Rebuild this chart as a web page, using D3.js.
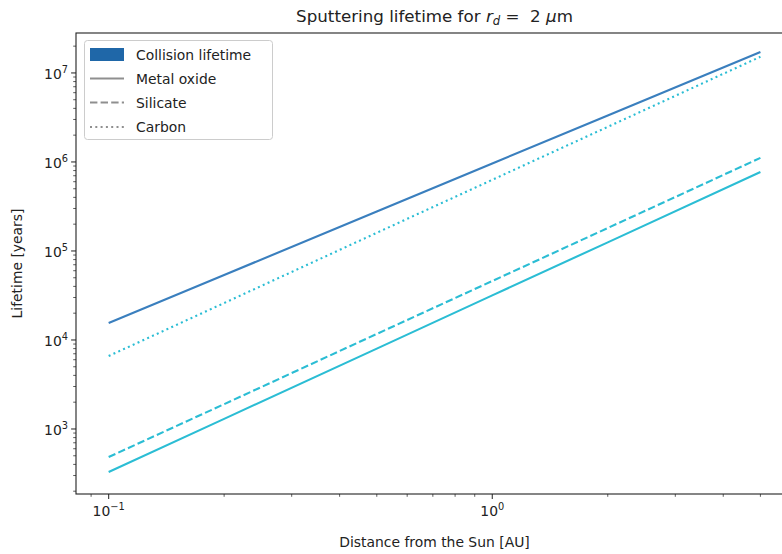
<!DOCTYPE html>
<html><head><meta charset="utf-8">
<script src="https://cdn.jsdelivr.net/npm/d3@7"></script>
<style>body{margin:0;background:#fff}svg{display:block;font-family:"DejaVu Sans",sans-serif}</style>
</head><body><svg id="c" width="782" height="554"></svg>
<script>
// Data
const distances = [0.1, 0.2, 0.5, 1, 2, 5];
const collisionLifetime = [1.55e4, 5.37e4, 2.77e5, 9.6e5, 3.33e6, 1.72e7];
const metalOxide = [329, 1.3e3, 8.0e3, 3.17e4, 1.25e5, 7.7e5];
const silicate = [484, 1.9e3, 1.17e4, 4.6e4, 1.81e5, 1.11e6];
const carbon = [6.6e3, 2.6e4, 1.6e5, 6.3e5, 2.48e6, 1.52e7];
const xTickLabels = ["-1", "0"];
const yTickLabels = ["3", "4", "5", "6", "7"];
const legendLabels = ["Collision lifetime", "Metal oxide", "Silicate", "Carbon"];

const svg = d3.select("#c");
svg.append("rect").attr("width",782).attr("height",554).attr("fill","#fff");
const L=76, R=793, T=33, B=494;
const x = d3.scaleLog().domain([0.0822, 6.08]).range([L, R]);
const y = d3.scaleLog().domain([186, 2.81e7]).range([B, T]);

svg.append("clipPath").attr("id","clip").append("rect").attr("x",L).attr("y",T).attr("width",R-L).attr("height",B-T);

const line = d3.line().x((d,i)=>x(distances[i])).y(d=>y(d));
const g = svg.append("g").attr("clip-path","url(#clip)");
const series = [
  {v: collisionLifetime, c:"#3a7fbe", dash:null},
  {v: carbon, c:"#2bbdd4", dash:"2,3.3"},
  {v: silicate, c:"#2bbdd4", dash:"7.4,3.2"},
  {v: metalOxide, c:"#2bbdd4", dash:null}
];
series.forEach(s=>{
  g.append("path").attr("d", line(s.v)).attr("fill","none").attr("stroke", s.c)
   .attr("stroke-width",2.1).attr("stroke-dasharray", s.dash);
});

const tickCol="#333";
const xMajor = xTickLabels.map(t=>Math.pow(10,+t));
const xMinor = [0.09,0.2,0.3,0.4,0.5,0.6,0.7,0.8,0.9,2,3,4,5,6];
xMajor.forEach((v,i)=>{
  const px=x(v);
  svg.append("line").attr("x1",px).attr("x2",px).attr("y1",B).attr("y2",B+4.9).attr("stroke",tickCol).attr("stroke-width",1.1);
  const t=svg.append("text").attr("x",px).attr("y",B+22).attr("text-anchor","middle").attr("font-size",13.9).attr("fill","#222");
  t.append("tspan").text("10");
  t.append("tspan").attr("dy",-6).attr("font-size",9.8).text(xTickLabels[i].replace("-","\u2212"));
});
xMinor.forEach(v=>{
  const px=x(v);
  svg.append("line").attr("x1",px).attr("x2",px).attr("y1",B).attr("y2",B+2.8).attr("stroke",tickCol).attr("stroke-width",0.8);
});
yTickLabels.forEach(t=>{
  const py=y(Math.pow(10,+t));
  svg.append("line").attr("x1",L).attr("x2",L-4.9).attr("y1",py).attr("y2",py).attr("stroke",tickCol).attr("stroke-width",1.1);
  const tx=svg.append("text").attr("x",L-8).attr("y",py+6).attr("text-anchor","end").attr("font-size",13.9).attr("fill","#222");
  tx.append("tspan").text("10");
  tx.append("tspan").attr("dy",-6).attr("font-size",9.8).text(t);
});
for(let e=2;e<=7;e++){
  for(let m=2;m<=9;m++){
    const v=m*Math.pow(10,e);
    if(v<186||v>2.81e7) continue;
    const py=y(v);
    svg.append("line").attr("x1",L).attr("x2",L-2.8).attr("y1",py).attr("y2",py).attr("stroke",tickCol).attr("stroke-width",0.8);
  }
}

svg.append("rect").attr("x",L).attr("y",T).attr("width",R-L).attr("height",B-T).attr("fill","none").attr("stroke","#222").attr("stroke-width",1.1);

svg.append("text").attr("x",(L+R)/2).attr("y",547).attr("text-anchor","middle").attr("font-size",13.9).attr("fill","#222").text("Distance from the Sun [AU]");
svg.append("text").attr("transform",`translate(22,${(T+B)/2}) rotate(-90)`).attr("text-anchor","middle").attr("font-size",13.9).attr("fill","#222").text("Lifetime [years]");

const title = svg.append("text").attr("x",(L+R)/2).attr("y",22).attr("text-anchor","middle").attr("font-size",16.7).attr("fill","#222");
title.append("tspan").text("Sputtering lifetime for ");
title.append("tspan").attr("font-style","italic").text("r");
title.append("tspan").attr("font-style","italic").attr("font-size",11.7).attr("dy",3).text("d");
title.append("tspan").attr("dy",-3).attr("xml:space","preserve").text(" =\u00a0 2 ");
title.append("tspan").attr("font-style","italic").text("\u03bc");
title.append("tspan").text("m");

const lg = svg.append("g");
lg.append("rect").attr("x",84.5).attr("y",40.5).attr("width",188).attr("height",99).attr("rx",3)
  .attr("fill","#fff").attr("fill-opacity",0.8).attr("stroke","#ccc").attr("stroke-width",1);
const rowY=[54.5,78.5,102.5,127];
lg.append("rect").attr("x",90).attr("y",rowY[0]-6.5).attr("width",34).attr("height",13).attr("fill","#1f67a8");
const legDash=[null,null,"7.4,3.2","2,3.3"];
[1,2,3].forEach(i=>{
  lg.append("line").attr("x1",90).attr("x2",124).attr("y1",rowY[i]).attr("y2",rowY[i])
    .attr("stroke","#8f8f8f").attr("stroke-width",2.1).attr("stroke-dasharray",legDash[i]);
});
legendLabels.forEach((t,i)=>{
  lg.append("text").attr("x",136).attr("y",rowY[i]+5).attr("font-size",13.9).attr("fill","#222").text(t);
});
</script></body></html>
